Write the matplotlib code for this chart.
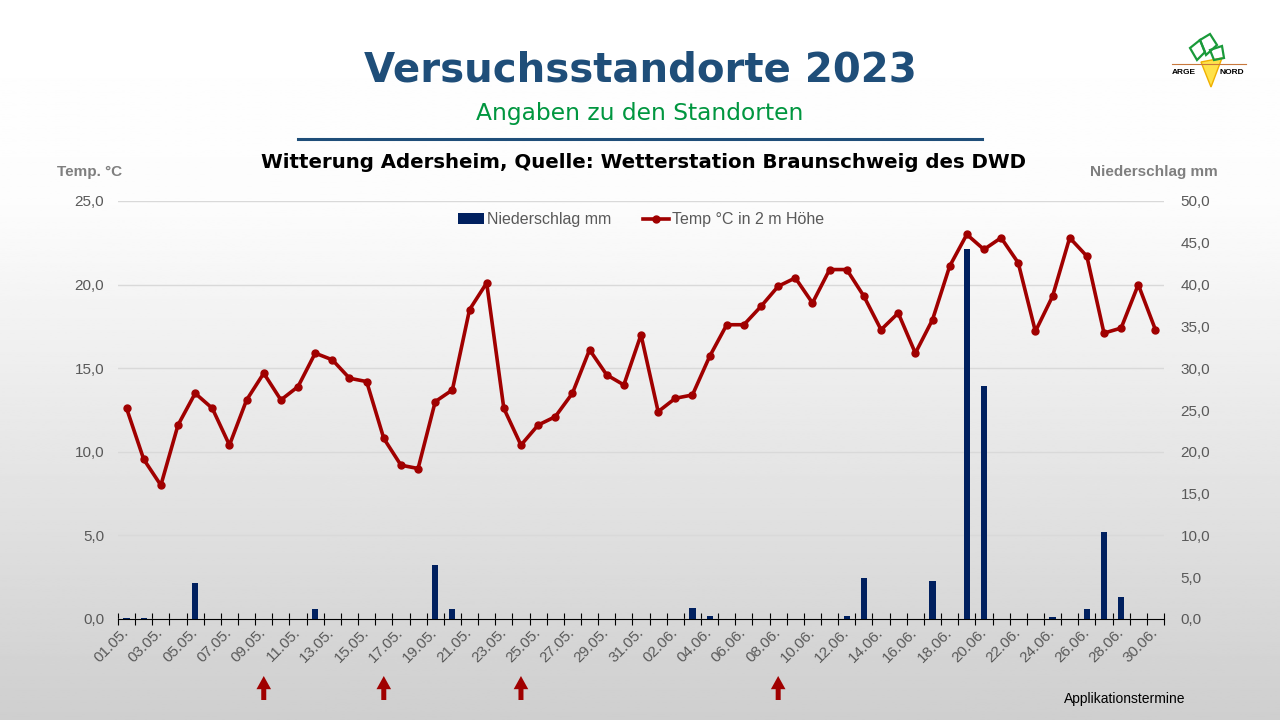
import matplotlib.pyplot as plt
import matplotlib.transforms as mtransforms
from matplotlib.patches import Polygon
from matplotlib.lines import Line2D
import numpy as np
import pandas as pd

plt.rcParams['font.family'] = ['Liberation Sans', 'DejaVu Sans']

# --- data ---
days = [d.strftime('%d.%m.') for d in pd.date_range('2023-05-01', '2023-06-30')]
temp = [12.6, 9.55, 8.0, 11.6, 13.5, 12.6, 10.4, 13.1, 14.7, 13.1, 13.9, 15.9, 15.5, 14.4, 14.2, 10.8,
        9.2, 9.0, 13.0, 13.7, 18.5, 20.1, 12.6, 10.4, 11.6, 12.1, 13.5, 16.1, 14.6, 14.0, 17.0,
        12.4, 13.2, 13.4, 15.7, 17.6, 17.6, 18.7, 19.9, 20.4, 18.9, 20.9, 20.9, 19.3, 17.3, 18.3,
        15.9, 17.9, 21.1, 23.0, 22.1, 22.8, 21.3, 17.2, 19.3, 22.8, 21.7, 17.1, 17.4, 20.0, 17.3]
rain = [0.1, 0.1, 0, 0, 4.3, 0, 0, 0, 0, 0, 0, 1.2, 0, 0, 0, 0,
        0, 0, 6.4, 1.2, 0, 0, 0, 0, 0, 0, 0, 0, 0, 0, 0,
        0, 0, 1.3, 0.4, 0, 0, 0, 0, 0, 0, 0, 0.4, 4.9, 0, 0,
        0, 4.5, 0, 44.3, 27.9, 0, 0, 0, 0.2, 0, 1.2, 10.4, 2.6, 0, 0]
app_days = ['09.05.', '16.05.', '24.05.', '08.06.']

navy = '#00205f'
red = '#a00000'
grey = '#595959'

fig = plt.figure(figsize=(12.8, 7.2), dpi=100)

# background gradient
bg = fig.add_axes([0, 0, 1, 1], zorder=-10)
yy = np.linspace(0, 1, 300)
shade = np.interp(yy, [0, 0.28, 1], [1.0, 0.99, 0.81])
bg.imshow(np.repeat(shade[:, None], 2, axis=1), cmap='gray', vmin=0, vmax=1,
          aspect='auto', extent=[0, 1, 0, 1])
bg.set_axis_off()

# headings
fig.text(0.5, 0.902, 'Versuchsstandorte 2023', ha='center', va='center', fontsize=29,
         fontweight='bold', color='#1f4e79', family='DejaVu Sans')
fig.text(0.5, 0.843, 'Angaben zu den Standorten', ha='center', va='center', fontsize=16.8,
         color='#00963f', family='DejaVu Sans')
fig.add_artist(Line2D([298 / 1280, 982 / 1280], [1 - 139 / 720] * 2, color='#1f4e79', lw=2.2))
fig.text(0.503, 0.775, 'Witterung Adersheim, Quelle: Wetterstation Braunschweig des DWD', ha='center',
         va='center', fontsize=14.2, fontweight='bold', color='black', family='DejaVu Sans')
fig.text(57 / 1280, 1 - 172 / 720, 'Temp. °C', ha='left', va='center', fontsize=11,
         fontweight='bold', color='#7f7f7f')
fig.text(1218 / 1280, 1 - 172 / 720, 'Niederschlag mm', ha='right', va='center', fontsize=11,
         fontweight='bold', color='#7f7f7f')
fig.text(1185 / 1280, 1 - 699 / 720, 'Applikationstermine', ha='right', va='center', fontsize=10,
         color='black')

# logo (rough)
def px(pts):
    return [(x / 1280, 1 - y / 720) for x, y in pts]
fig.add_artist(Line2D([1172 / 1280, 1246 / 1280], [1 - 64 / 720] * 2, color='#c8783c', lw=0.8))
fig.add_artist(Polygon(px([(1201, 62), (1222, 58), (1211, 87)]), closed=True, fc='#ffe24a',
                       ec='#f0b000', lw=1))
for leaf in [[(1190, 48), (1200, 40), (1205, 52), (1197, 60)],
             [(1200, 40), (1210, 34), (1217, 45), (1206, 55)],
             [(1210, 50), (1222, 46), (1224, 58), (1214, 60)]]:
    fig.add_artist(Polygon(px(leaf), closed=True, fc='none', ec='#1a9a3a', lw=1.6))
fig.text(1172 / 1280, 1 - 73 / 720, 'ARGE', fontsize=6, fontweight='bold', va='center')
fig.text(1219 / 1280, 1 - 73 / 720, 'NORD', fontsize=6, fontweight='bold', va='center')

# chart
x = np.arange(len(days))
ax = fig.add_axes([118 / 1280, 1 - 619 / 720, (1164 - 118) / 1280, 418 / 720])
ax.patch.set_alpha(0)
ax.set_xlim(-0.5, len(days) - 0.5)
ax.set_ylim(0, 25)
ax.set_yticks(np.arange(0, 26, 5))
ax.set_yticklabels([f'{v:.1f}'.replace('.', ',') for v in np.arange(0, 26, 5)])
ax.grid(axis='y', color='#d9d9d9', lw=1)
for s in ['top', 'left', 'right']:
    ax.spines[s].set_visible(False)
ax.spines['bottom'].set_color('black')
ax.spines['bottom'].set_zorder(5)
ax.tick_params(axis='y', length=0, labelsize=11, labelcolor=grey, pad=10)
ax.set_xticks(np.arange(-0.5, len(days), 1))
ax.set_xticklabels([])
ax.tick_params(axis='x', which='major', direction='inout', length=8, color='black')
ax.set_xticks(x[::2], minor=True)
ax.set_xticklabels(days[::2], minor=True, rotation=45, ha='right', va='center',
                   rotation_mode='anchor', fontsize=11, color=grey)
ax.tick_params(axis='x', which='minor', length=0, pad=8)

axp = ax.twinx()
axp.set_ylim(0, 50)
axp.set_yticks(np.arange(0, 51, 5))
axp.set_yticklabels([f'{v:.1f}'.replace('.', ',') for v in np.arange(0, 51, 5)])
axp.tick_params(axis='y', length=0, labelsize=11, labelcolor=grey, pad=12)
for s in axp.spines.values():
    s.set_visible(False)
bars = axp.bar(x, rain, width=0.36, color=navy, label='Niederschlag mm')

axl = ax.twinx()
axl.set_ylim(0, 25)
axl.set_yticks([])
for s in axl.spines.values():
    s.set_visible(False)
line, = axl.plot(x, temp, color=red, lw=2.6, marker='o', ms=5, label='Temp °C in 2 m Höhe')

leg = axl.legend(handles=[bars, line], loc='center', bbox_to_anchor=(0.5, 0.955), ncol=2,
                 frameon=False, fontsize=11.5, handlelength=1.6, columnspacing=2.0,
                 handletextpad=0.2)
for t in leg.get_texts():
    t.set_color(grey)

# application dates
trans = mtransforms.blended_transform_factory(ax.transData, fig.transFigure)
for d in app_days:
    xi = days.index(d)
    ax.annotate('', xy=(xi, 1 - 676 / 720), xytext=(xi, 1 - 700 / 720),
                xycoords=trans, textcoords=trans, annotation_clip=False,
                arrowprops=dict(arrowstyle='simple,head_length=0.95,head_width=1.05,tail_width=0.36',
                                fc=red, ec='none', mutation_scale=10, shrinkA=0, shrinkB=0))

fig.savefig('out.png', dpi=100)
